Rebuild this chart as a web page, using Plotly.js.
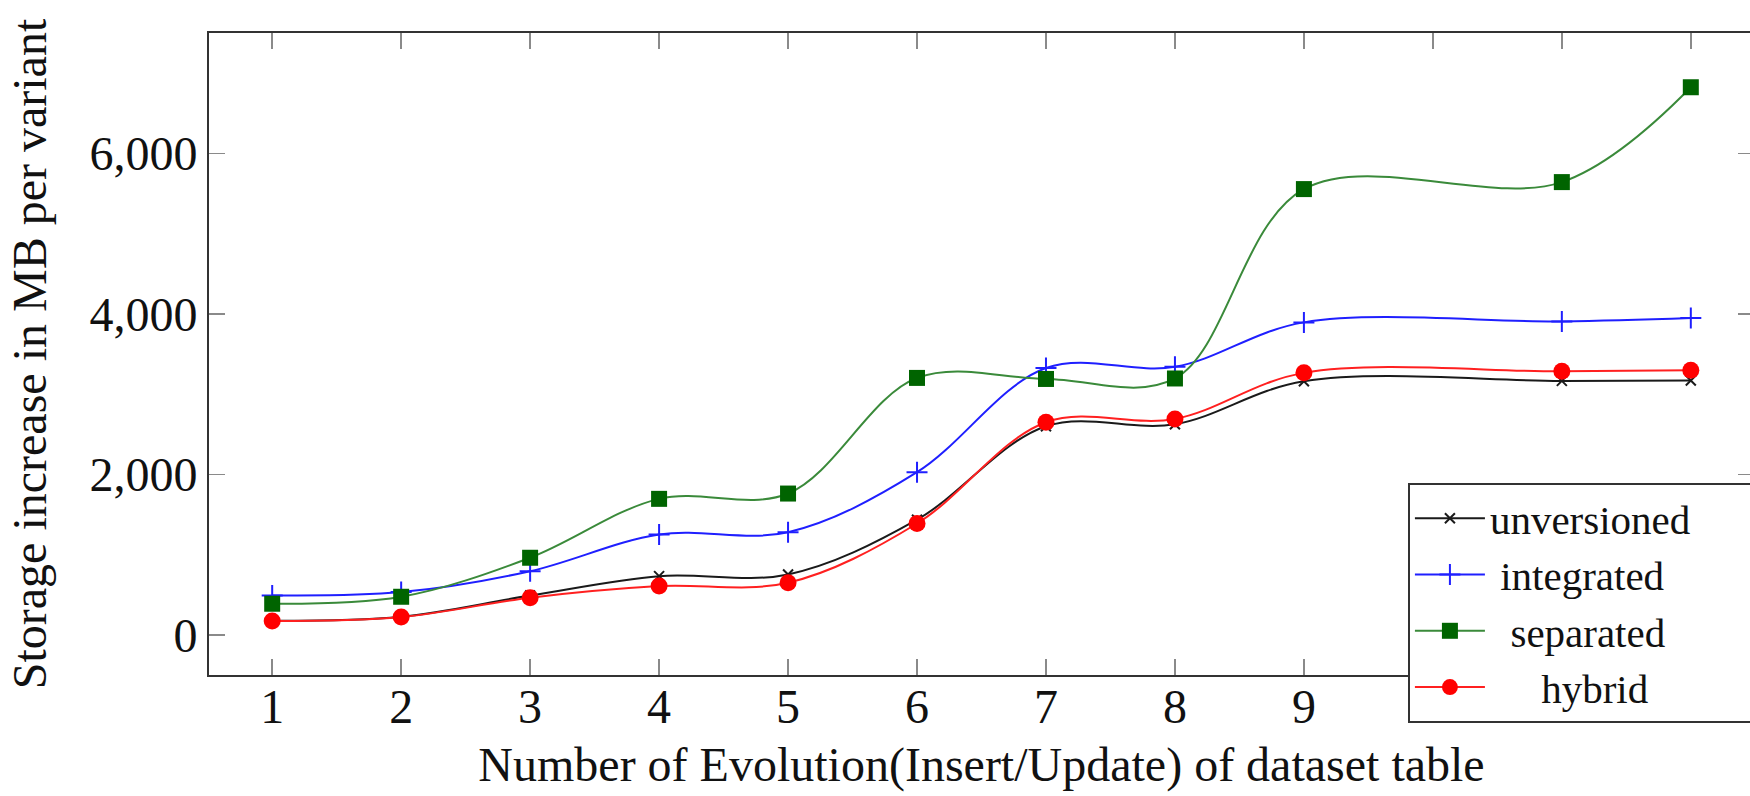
<!DOCTYPE html>
<html>
<head>
<meta charset="utf-8">
<script src="https://cdn.plot.ly/plotly-3.0.1.min.js"></script>
<style>
  html, body { margin: 0; padding: 0; overflow: hidden; background: #fff; }
  #chart { width: 1800px; height: 796px; }
</style>
</head>
<body>
<div id="chart"></div>
<script>
// ---- data ----
const evolutions   = [1, 2, 3, 4, 5, 6, 7, 8, 9, 11, 12];
const unversioned  = [175, 225, 490, 732, 753, 1435, 2600, 2625, 3160, 3165, 3170];
const integrated   = [492, 533, 794, 1251, 1280, 2027, 3325, 3340, 3894, 3906, 3949];
const separated    = [388, 475, 961, 1695, 1761, 3202, 3189, 3195, 5555, 5642, 6824];
const hybrid       = [172, 222, 463, 608, 650, 1388, 2649, 2691, 3265, 3284, 3297];
const xTickVals    = [1, 2, 3, 4, 5, 6, 7, 8, 9, 10, 11, 12];
const yTickVals    = [0, 2000, 4000, 6000];
const NB = '\u00a0';
const seriesNames  = ['unversioned' + NB.repeat(6),
                      NB + 'integrated',
                      NB + NB + 'separated',
                      NB.repeat(5) + 'hybrid'];

const FONT = 'Liberation Serif, Times New Roman, serif';

function trace(name, y, lineColor, marker) {
  return {
    type: 'scatter', mode: 'lines+markers', name: name,
    x: evolutions, y: y,
    line: { color: lineColor, width: 2, shape: 'spline', smoothing: 1 },
    marker: marker,
    cliponaxis: false
  };
}

const data = [
  trace(seriesNames[0], unversioned, '#1a1a1a',
        { symbol: 'x-thin', size: 10, color: '#1a1a1a', line: { color: '#1a1a1a', width: 2 } }),
  trace(seriesNames[1], integrated, '#1f1fff',
        { symbol: 'cross-thin', size: 15, color: '#1f1fff', line: { color: '#1f1fff', width: 2 } }),
  trace(seriesNames[2], separated, '#3a8a3a',
        { symbol: 'square', size: 16, color: '#006400', line: { width: 0 } }),
  trace(seriesNames[3], hybrid, '#ff2020',
        { symbol: 'circle', size: 17, color: '#ff0000', line: { width: 0 } })
];

const axisCommon = {
  showgrid: false, zeroline: false,
  showline: true, linecolor: '#333', linewidth: 2,
  mirror: 'ticks', ticks: 'inside', ticklen: 16, tickwidth: 1.5, tickcolor: '#8a8a8a',
  tickfont: { family: FONT, size: 48, color: '#111' }
};

const layout = {
  width: 1800, height: 796,
  margin: { l: 209, r: 46, t: 33, b: 121 },
  paper_bgcolor: '#fff', plot_bgcolor: '#fff',
  showlegend: true,
  xaxis: Object.assign({}, axisCommon, {
    range: [0.51, 12.49],
    tickmode: 'array', tickvals: xTickVals,
    ticklabelstandoff: -12,
    title: { text: 'Number of Evolution(Insert/Update) of dataset table',
             font: { family: FONT, size: 48, color: '#111' }, standoff: 16 }
  }),
  yaxis: Object.assign({}, axisCommon, {
    range: [-500, 7500],
    tickmode: 'array', tickvals: yTickVals, tickformat: ',',
    ticklabelstandoff: 0,
    title: { text: 'Storage increase in MB per variant',
             font: { family: FONT, size: 48, color: '#111' }, standoff: 28 }
  }),
  legend: {
    x: 0.776, y: 0.299, xanchor: 'left', yanchor: 'top',
    bgcolor: '#fff', bordercolor: '#333', borderwidth: 2,
    font: { family: FONT, size: 41, color: '#111' },
    itemwidth: 70, tracegroupgap: 0
  }
};

Plotly.newPlot('chart', data, layout, { staticPlot: true, displayModeBar: false });
</script>
</body>
</html>
